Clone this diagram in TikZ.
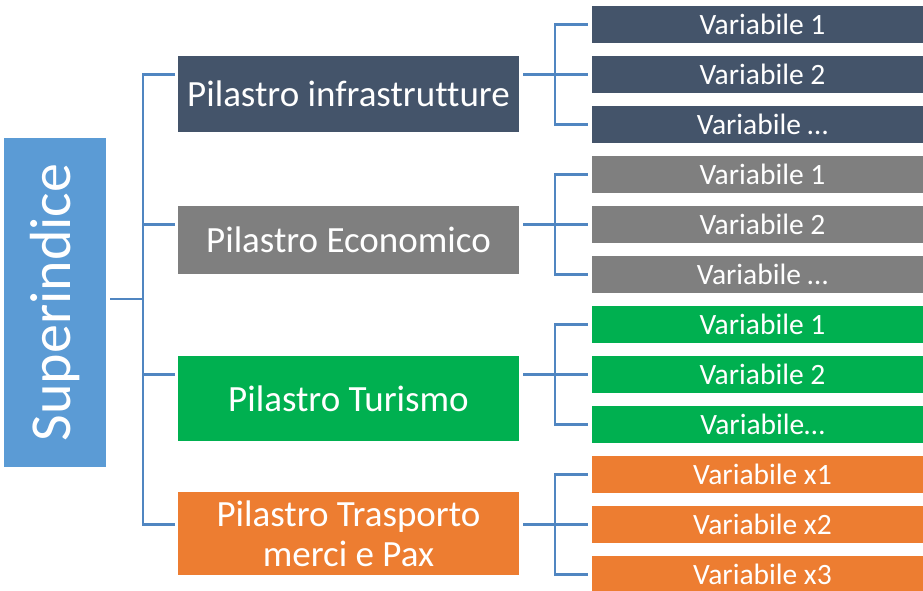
\documentclass[tikz,border=0pt]{standalone}
\usepackage{fontspec}
\setmainfont{Carlito}[Ligatures=NoCommon]
\usepackage{tikz}
\usetikzlibrary{positioning}
\usepackage{xcolor}
\definecolor{superblue}{HTML}{5B9BD5}
\definecolor{slateblue}{HTML}{44546A}
\definecolor{midgrey}{HTML}{7F7F7F}
\definecolor{tourgreen}{HTML}{00B050}
\definecolor{cargoorange}{HTML}{ED7D31}
\definecolor{linkblue}{HTML}{5086C1}

\begin{document}
\begin{tikzpicture}[x=1pt,y=-1pt]
        \tikzstyle{box}=[inner sep=0pt, text=white, align=center]
        \tikzstyle{pillar}=[box, minimum width=341pt, font=\fontsize{37}{40}\selectfont]
        \tikzstyle{var}=[box, minimum width=341pt, minimum height=37pt, font=\fontsize{29.5}{31}\selectfont]
        \tikzstyle{link}=[linkblue, line width=2.5pt]
        \useasboundingbox (0,0) rectangle (923,590);

        % Root
        \node (super)[box, fill=superblue, rotate=90, minimum width=329pt, minimum height=102pt,
            font=\fontsize{58}{60}\selectfont] at (55,302.5) {Superindice};

        % Pillars
        \node (p1)[pillar, fill=slateblue, minimum height=76pt] at (348.5,94) {Pilastro infrastrutture};
        \node (p2)[pillar, fill=midgrey, minimum height=68pt] at (348.5,240) {Pilastro Economico};
        \node (p3)[pillar, fill=tourgreen, minimum height=85pt] at (348.5,398.5) {Pilastro Turismo};
        \node (p4)[pillar, fill=cargoorange, minimum height=83pt] at (348.5,533.5) {Pilastro Trasporto\\merci e Pax};

        % Variables (boxes run past the right edge)
        \node (v1a)[var, fill=slateblue] at (762.5,24.5) {Variabile 1};
        \node (v1b)[var, fill=slateblue] at (762.5,74.5) {Variabile 2};
        \node (v1c)[var, fill=slateblue] at (762.5,124.5) {Variabile …};
        \node (v2a)[var, fill=midgrey] at (762.5,174.5) {Variabile 1};
        \node (v2b)[var, fill=midgrey] at (762.5,224.5) {Variabile 2};
        \node (v2c)[var, fill=midgrey] at (762.5,274.5) {Variabile …};
        \node (v3a)[var, fill=tourgreen] at (762.5,324.5) {Variabile 1};
        \node (v3b)[var, fill=tourgreen] at (762.5,374.5) {Variabile 2};
        \node (v3c)[var, fill=tourgreen] at (762.5,424.5) {Variabile…};
        \node (v4a)[var, fill=cargoorange] at (762.5,474.5) {Variabile x1};
        \node (v4b)[var, fill=cargoorange] at (762.5,524.5) {Variabile x2};
        \node (v4c)[var, fill=cargoorange] at (762.5,574.5) {Variabile x3};

        % Spine from the root
        \coordinate (spine) at (143,299);
        \coordinate (fork) at (555,0);
        \draw[link] ([xshift=4pt]super.south |- spine) -- (spine);
        \draw[link] ([xshift=-3pt]p1.west |- v1b) -- (spine |- v1b) -- (spine |- v4b) -- ([xshift=-3pt]p4.west |- v4b);
        \draw[link] (spine |- v2b) -- ([xshift=-3pt]p2.west |- v2b);
        \draw[link] (spine |- v3b) -- ([xshift=-3pt]p3.west |- v3b);

        % Forks to the variables
        \draw[link] ([xshift=-4pt]v1a.west) -- (fork |- v1a) -- (fork |- v1c) -- ([xshift=-4pt]v1c.west);
        \draw[link] ([xshift=4pt]p1.east |- v1b) -- ([xshift=-4pt]v1b.west);
        \draw[link] ([xshift=-4pt]v2a.west) -- (fork |- v2a) -- (fork |- v2c) -- ([xshift=-4pt]v2c.west);
        \draw[link] ([xshift=4pt]p2.east |- v2b) -- ([xshift=-4pt]v2b.west);
        \draw[link] ([xshift=-4pt]v3a.west) -- (fork |- v3a) -- (fork |- v3c) -- ([xshift=-4pt]v3c.west);
        \draw[link] ([xshift=4pt]p3.east |- v3b) -- ([xshift=-4pt]v3b.west);
        \draw[link] ([xshift=-4pt]v4a.west) -- (fork |- v4a) -- (fork |- v4c) -- ([xshift=-4pt]v4c.west);
        \draw[link] ([xshift=4pt]p4.east |- v4b) -- ([xshift=-4pt]v4b.west);
\end{tikzpicture}
\end{document}
